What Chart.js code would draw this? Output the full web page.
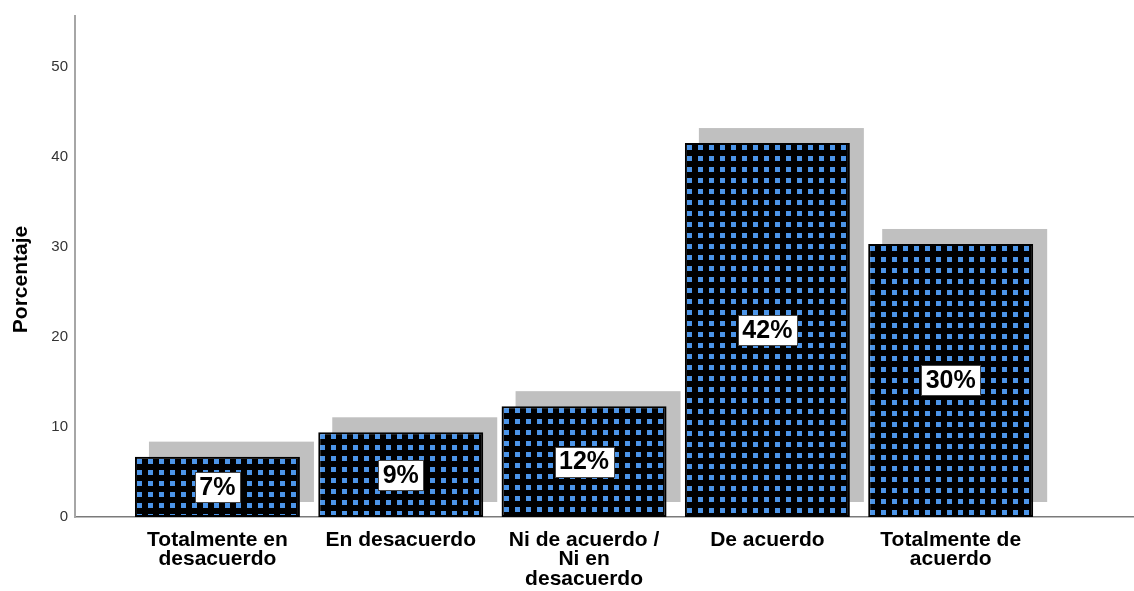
<!DOCTYPE html>
<html>
<head>
<meta charset="utf-8">
<script src="https://cdn.jsdelivr.net/npm/chart.js@4/dist/chart.umd.min.js"></script>
<style>
  html, body { margin: 0; padding: 0; background: #ffffff; }
  #wrap { width: 1134px; height: 591px; }
</style>
</head>
<body>
<div id="wrap"><canvas id="chart" width="1134" height="591"></canvas></div>
<script>
// Response categories (multi-line axis labels)
const categories = [
  ['Totalmente en', 'desacuerdo'],
  ['En desacuerdo'],
  ['Ni de acuerdo /', 'Ni en', 'desacuerdo'],
  ['De acuerdo'],
  ['Totalmente de', 'acuerdo']
];
// Percentage of respondents per category
const percentages = [6.7, 9.4, 12.3, 41.5, 30.3];
// Y axis tick values
const yTicks = [0, 10, 20, 30, 40, 50];

const FONT = "'Liberation Sans', Arial, Helvetica, sans-serif";

// Dotted fill: black ground with blue squares
function makeTile() {
  const t = document.createElement('canvas');
  t.width = 11; t.height = 11;
  const c = t.getContext('2d');
  c.fillStyle = '#000000';
  c.fillRect(0, 0, 11, 11);
  c.fillStyle = '#4c95e8';
  c.fillRect(2, 2, 5, 5);
  return t;
}
const tile = makeTile();
const ctx = document.getElementById('chart').getContext('2d');
const patterns = percentages.map(() => ctx.createPattern(tile, 'repeat'));

// Shadow behind each bar, pattern anchored to each bar's corner, value boxes, axis title
const shadowPlugin = {
  id: 'barShadow',
  beforeDatasetsDraw(chart) {
    const c = chart.ctx;
    const meta = chart.getDatasetMeta(0);
    c.save();
    c.fillStyle = '#c0c0c0';
    meta.data.forEach((bar, i) => {
      const p = bar.getProps(['x', 'y', 'base', 'width'], true);
      const left = p.x - p.width / 2;
      c.fillRect(left + 14, p.y - 15, p.width, p.base - p.y);
      if (patterns[i] && patterns[i].setTransform) {
        patterns[i].setTransform(new DOMMatrix().translate(Math.round(left), Math.round(p.y)));
      }
    });
    c.restore();
  },
  afterDatasetsDraw(chart) {
    const c = chart.ctx;
    const meta = chart.getDatasetMeta(0);
    c.save();
    c.font = 'bold 25px ' + FONT;
    c.textAlign = 'center';
    c.textBaseline = 'middle';
    meta.data.forEach((bar, i) => {
      const p = bar.getProps(['x', 'y', 'base'], true);
      const text = Math.round(percentages[i]) + '%';
      const w = Math.round(c.measureText(text).width + 9);
      const h = 30;
      const cy = (p.y + p.base) / 2;
      const bx = Math.round(p.x - w / 2);
      const by = Math.round(cy - h / 2);
      c.fillStyle = '#ffffff';
      c.fillRect(bx, by, w, h);
      c.strokeStyle = '#444444';
      c.lineWidth = 1;
      c.strokeRect(bx + 0.5, by + 0.5, w, h);
      c.fillStyle = '#000000';
      c.fillText(text, p.x, cy + 1);
    });
    c.restore();
  },
  afterDraw(chart) {
    const c = chart.ctx;
    const a = chart.chartArea;
    c.save();
    c.translate(21, (a.top + a.bottom) / 2 + 13);
    c.rotate(-Math.PI / 2);
    c.font = 'bold 21px ' + FONT;
    c.textAlign = 'center';
    c.textBaseline = 'middle';
    c.fillStyle = '#000000';
    c.fillText('Porcentaje', 0, 0);
    c.restore();
  }
};

new Chart(ctx, {
  type: 'bar',
  data: {
    datasets: [{
      data: percentages.map((v, i) => ({ x: i + 1, y: v })),
      backgroundColor: patterns,
      borderColor: '#000000',
      borderWidth: 2,
      borderSkipped: false,
      barPercentage: 0.9,
      categoryPercentage: 1.0
    }]
  },
  options: {
    responsive: false,
    devicePixelRatio: 1,
    animation: false,
    layout: { padding: { top: 15, right: 0, bottom: 0, left: 0 } },
    plugins: { legend: { display: false }, tooltip: { enabled: false } },
    scales: {
      x: {
        type: 'linear',
        offset: false,
        min: 0.223,
        max: 6.0,
        grid: { display: false, drawTicks: false, offset: false },
        border: { display: true, color: '#7a7a7a', width: 1.5 },
        afterBuildTicks(scale) {
          scale.ticks = categories.map((_, i) => ({ value: i + 1 }));
        },
        afterFit(scale) { scale.height = 74; },
        ticks: {
          autoSkip: false,
          maxRotation: 0,
          padding: 13,
          color: '#000000',
          font: { family: FONT, size: 21, weight: 'bold', lineHeight: 0.93 },
          callback: (value) => categories[value - 1] || ''
        }
      },
      y: {
        min: 0,
        max: 55.6,
        grid: { display: false, drawTicks: false },
        border: { display: true, color: '#a6a6a6', width: 2 },
        afterBuildTicks(scale) {
          scale.ticks = yTicks.map(v => ({ value: v }));
        },
        afterFit(scale) { scale.width = 75; },
        ticks: {
          padding: 7,
          color: '#333333',
          font: { family: FONT, size: 15 }
        }
      }
    }
  },
  plugins: [shadowPlugin]
});
</script>
</body>
</html>
